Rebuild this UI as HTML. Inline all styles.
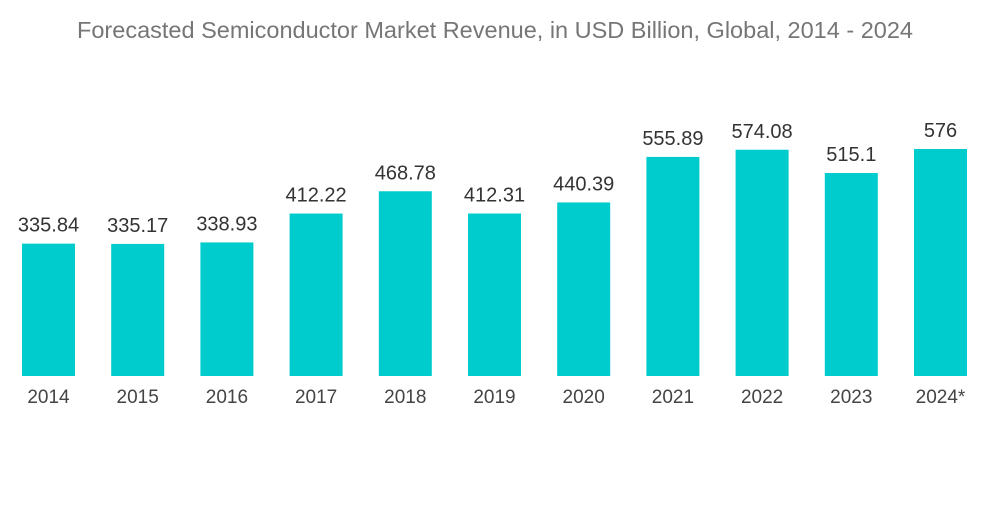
<!DOCTYPE html>
<html><head><meta charset="utf-8"><style>
body{margin:0;background:#fff;}
svg text{font-family:"Liberation Sans",sans-serif;}
</style></head><body>
<svg id="chart" width="1000" height="504">
<text x="495" y="38" text-anchor="middle" font-size="23.5" fill="#767676">Forecasted Semiconductor Market Revenue, in USD Billion, Global, 2014 - 2024</text>
<g id="bars"></g>
</svg>
<script>
const categories=["2014","2015","2016","2017","2018","2019","2020","2021","2022","2023","2024*"];
const values=[335.84,335.17,338.93,412.22,468.78,412.31,440.39,555.89,574.08,515.1,576];
const valueLabels=["335.84","335.17","338.93","412.22","468.78","412.31","440.39","555.89","574.08","515.1","576"];
const baseY=376, scale=227/576, step=89.2, x0=48.5, bw=53;
const xPos=i=>x0+i*step;
const yPos=v=>baseY-v*scale;
const g=document.getElementById('bars');
const ns='http://www.w3.org/2000/svg';
categories.forEach((c,i)=>{
  const r=document.createElementNS(ns,'rect');
  r.setAttribute('x',xPos(i)-bw/2);r.setAttribute('y',yPos(values[i]));
  r.setAttribute('width',bw);r.setAttribute('height',baseY-yPos(values[i]));
  r.setAttribute('fill','#00ccce');
  
  
  g.appendChild(r);
  const t=document.createElementNS(ns,'text');
  t.setAttribute('x',xPos(i));t.setAttribute('y',yPos(values[i])-12);
  t.setAttribute('text-anchor','middle');t.setAttribute('font-size','20');t.setAttribute('fill','#333');
  t.textContent=valueLabels[i];
  
  
  g.appendChild(t);
  const l=document.createElementNS(ns,'text');
  l.setAttribute('x',xPos(i));l.setAttribute('y',403);
  l.setAttribute('text-anchor','middle');l.setAttribute('font-size','19');l.setAttribute('fill','#444');
  l.textContent=c;
  
  
  g.appendChild(l);
});
</script>
</body></html>
